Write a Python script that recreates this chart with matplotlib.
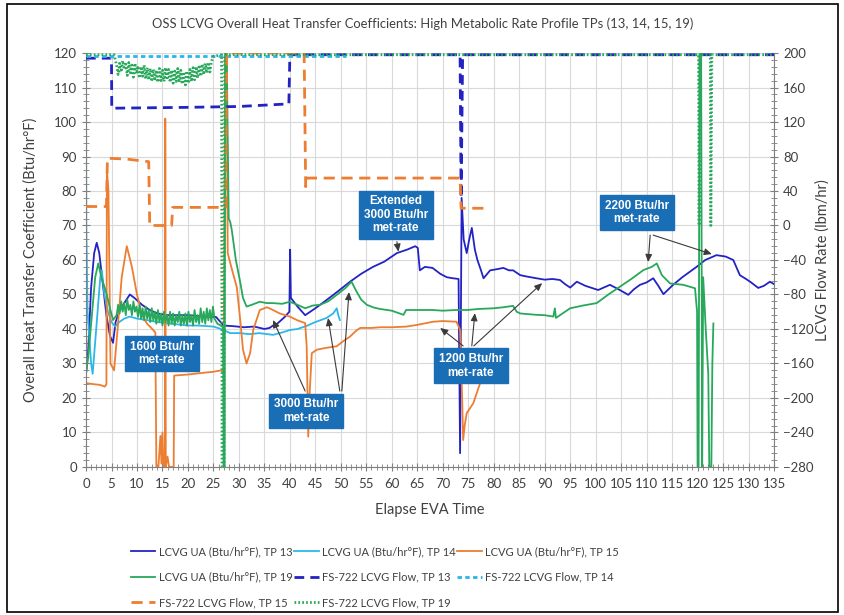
"""OSS LCVG overall heat transfer coefficients for the high metabolic rate
profile test points (13, 14, 15, 19), with the FS-722 LCVG flow traces on a
secondary axis. Values were read off the original chart by eye.
"""
import matplotlib

matplotlib.use("Agg")
import matplotlib.pyplot as plt
from matplotlib.patches import Rectangle
from matplotlib.ticker import MultipleLocator

# --- LCVG UA (Btu/hr*F), left axis: (elapsed EVA time, UA)
ua_tp13 = [
    (0, 27), (0.4, 33), (1.0, 52), (1.6, 62), (2.1, 65), (2.6, 62), (3.3, 53),
    (4.0, 44), (4.7, 38), (5.3, 36), (5.8, 42), (6.5, 45), (7.5, 47.5), (8.6, 50),
    (9.5, 49), (11, 47), (12.5, 45.5), (14, 44.5), (16, 44), (18, 44), (20, 44),
    (22, 43.8), (24, 43.5), (25.5, 43.5), (27, 41), (29, 40.8), (31, 40.5),
    (33, 40.7), (35, 40), (36, 40.3), (36.7, 41), (37.5, 41.5), (39, 43.5),
    (39.9, 45), (40.05, 63), (40.2, 49), (41.5, 46.5), (43, 44), (45, 46),
    (47.2, 48.4), (49.5, 51), (51.8, 53.7), (54, 56), (56.3, 58), (58.5, 59.5),
    (61, 62), (63, 63), (64.6, 64), (65.1, 63.5), (65.5, 57), (66.5, 58),
    (68, 57.7), (69.5, 56), (70.8, 55), (72, 54.7), (73.1, 54.5), (73.4, 4),
    (73.7, 78), (74.1, 66), (74.7, 62), (75.2, 66), (75.7, 69.3), (76.3, 63),
    (76.8, 60), (77.5, 57), (78, 54.7), (79.3, 57), (80.5, 57.3), (81.9, 57.7),
    (83, 57), (83.8, 57), (85.2, 55.6), (86.5, 55.2), (88.4, 54.7), (90, 54.3),
    (91.5, 54.5), (93, 54.2), (94, 53), (95, 52), (96.3, 53.7), (98, 52.5),
    (100.5, 51.3), (102.8, 52.8), (104.5, 51.5), (106.4, 49.9), (107.5, 51.5),
    (108.7, 52.8), (110, 53.5), (111.3, 54.7), (112.3, 52.5), (113.3, 50.1),
    (115.2, 52.8), (117, 55), (119.8, 58), (121.5, 60), (123.7, 61.4),
    (125.5, 61), (127, 60), (128.3, 55.6), (129.5, 54.5), (130.5, 53.5),
    (131.9, 51.9), (133, 52.5), (134.2, 53.7), (135, 53),
]
ua_tp14 = [
    (0, 120), (0.05, 70), (0.3, 45), (1.0, 30), (1.3, 27), (2.0, 40), (2.8, 55),
    (3.1, 57), (3.6, 50), (4.3, 45), (5, 42), (5.7, 40.7), (6.5, 42), (7.5, 43),
    (8.6, 43.6), (10, 43), (11.9, 42.6), (14, 42), (17, 41.5), (20, 41), (22, 41),
    (25, 40.7), (26.5, 40), (28.3, 38.8), (30.2, 38.8), (32, 38.5), (34, 38.8),
    (36.7, 38.3), (38.5, 39), (40, 39.7), (41.5, 40), (43.3, 40.9), (45, 42),
    (47.2, 43.2), (48.5, 44.5), (49.2, 46), (49.5, 44), (49.8, 42.6),
]
ua_tp15 = [
    (0, 24.3), (1.5, 24), (2.7, 23.8), (3.7, 23.3), (4.0, 24), (4.1, 86),
    (4.4, 80), (4.8, 30), (5.5, 28), (6.2, 40), (7, 55), (8, 64), (9, 58),
    (10, 50), (11, 44), (12, 41.5), (13, 40), (13.6, 39), (13.8, 0), (14.2, 0),
    (14.6, 9), (14.8, 1), (15.0, 10), (15.2, 0), (15.5, 0), (15.55, 101),
    (15.65, 0), (16, 3), (16.3, 0), (17.2, 0), (17.3, 26.5), (20, 26.8),
    (23, 27.3), (25, 27.6), (26.5, 28), (27, 27.3), (27.3, 120), (27.6, 120),
    (27.8, 62), (28.5, 58), (29.6, 52), (30.3, 42), (30.8, 34), (31.5, 30),
    (32.2, 33), (32.8, 39.7), (34.1, 45.5), (35.5, 46.3), (36.7, 45.5),
    (38, 44.5), (40, 43.6), (41.5, 42.5), (43, 41.7), (43.3, 35), (43.6, 8.8),
    (43.9, 22), (44.3, 33), (45.3, 34), (47, 34.5), (49.2, 35), (50.5, 36.5),
    (51.8, 37.8), (53, 39.5), (53.8, 40.3), (56, 40.3), (57.7, 40.5), (60, 40.5),
    (62.9, 40.7), (65, 41.2), (68.1, 42.1), (70, 42.3), (72.7, 42.1),
    (73.4, 39.7), (73.8, 20), (74.0, 7.8), (74.3, 12), (74.7, 15.6), (76, 18.5),
    (76.8, 22), (77.5, 25),
]
ua_tp19 = [
    (0, 27), (0.5, 33), (1.2, 45), (1.8, 55), (2.4, 59), (3, 55), (4, 50.4),
    (4.7, 46), (5.3, 42.6), (6.0, 44),
    (6.3, 47), (6.6, 44.5), (6.9, 48), (7.2, 45), (7.5, 47.5), (7.8, 44),
    (8.1, 48.5), (8.4, 45.5), (8.7, 47), (9.0, 44), (9.3, 48), (9.6, 45),
    (9.9, 46.5), (10.2, 43.5), (10.5, 47), (10.8, 43), (11.1, 46), (11.4, 42.5),
    (11.7, 46.5), (12.0, 43), (12.3, 45.5), (12.6, 42), (12.9, 46), (13.2, 42.5),
    (13.5, 45), (13.8, 41.5), (14.1, 45.5), (14.4, 42), (14.7, 44.5), (15.0, 41),
    (15.3, 45), (15.6, 42), (15.9, 44), (16.2, 41), (16.5, 45), (16.8, 41.5),
    (17.1, 44.5), (17.4, 41), (17.7, 44), (18.0, 42), (18.3, 45), (18.6, 41),
    (18.9, 44), (19.2, 41.5), (19.5, 44.5), (19.8, 41), (20.1, 45), (20.4, 42),
    (20.7, 44), (21.0, 41), (21.3, 45.5), (21.6, 42), (21.9, 44), (22.2, 41.5),
    (22.5, 46), (22.8, 42), (23.1, 45), (23.4, 41.5), (23.7, 46), (24.0, 42.5),
    (24.3, 45.5), (24.6, 42), (24.9, 46.5), (25.2, 43),
    (25.8, 41.5), (26.5, 41), (26.9, 40.5), (27.0, 0), (27.2, 0), (27.3, 120),
    (27.6, 120), (28.0, 72), (28.3, 71), (28.6, 68.7), (29.4, 60), (30.2, 54),
    (30.8, 49), (31.5, 46.5), (32.5, 47), (34.1, 47.9), (35.5, 47.5),
    (36.7, 47.5), (38.5, 47.3), (40, 47.9), (41.5, 47), (43, 46), (44.5, 46.8),
    (45.9, 47), (47.5, 48), (49.2, 49.9), (51, 52), (52.1, 53.7), (53.1, 50.8),
    (54, 48.5), (55.1, 47), (56.5, 46.2), (57.7, 45.8), (60, 45.3), (62.3, 44.1),
    (62.8, 45.5), (65.5, 45.5), (68, 45.5), (70, 45.3), (72.5, 45.5),
    (74.8, 45.5), (77, 45.8), (80, 46), (81.9, 46.3), (83.8, 46.7), (84.5, 45),
    (85.2, 44.5), (88.4, 44.1), (90, 44), (91.7, 43.6), (92, 46), (92.2, 43.2),
    (93.5, 44.5), (95, 46), (97.5, 46.8), (100.2, 47.5), (102.5, 50),
    (104.8, 52.3), (107, 54.5), (109.4, 57.1), (111, 58), (112, 59), (113, 55.6),
    (114.6, 53.2), (117.2, 52.8), (119.5, 51.8), (119.9, 45), (120.0, 0),
    (120.2, 0), (120.4, 120), (120.7, 120), (120.9, 0), (121.1, 55), (121.6, 40),
    (122.1, 27), (122.3, 0), (122.7, 0), (122.9, 30), (123.1, 41.6),
]

# --- FS-722 LCVG flow (lbm/hr), right axis: (elapsed EVA time, flow)
flow_tp13 = [
    (0, 194), (5, 194), (5.05, 136), (20, 137), (30, 138), (39.8, 141),
    (40, 198), (73.4, 198), (73.6, 32), (73.9, 198), (135, 198),
]
flow_tp14 = [(0, 197), (51, 197)]
flow_tp15 = [
    (0, 22), (4.0, 22), (4.2, 78), (8, 77), (12.3, 74), (12.5, 0), (16.8, 0),
    (17, 21), (27.4, 21), (27.6, 200), (42.8, 200), (43.1, 45), (43.4, 55),
    (73.4, 55), (73.6, 20), (79, 20),
]
flow_tp19 = [
    (0, 198), (5.5, 198),
    (6.0, 186), (6.3, 175), (6.6, 188), (6.9, 178), (7.2, 191), (7.5, 181),
    (7.8, 187), (8.1, 174), (8.4, 189), (8.7, 177), (9.0, 186), (9.3, 172),
    (9.6, 188), (9.9, 176), (10.2, 185), (10.5, 171), (10.8, 184), (11.1, 173),
    (11.4, 186), (11.7, 170), (12.0, 183), (12.3, 169), (12.6, 182), (12.9, 167),
    (13.2, 181), (13.5, 168), (13.8, 180), (14.1, 166), (14.4, 182), (14.7, 168),
    (15.0, 180), (15.3, 167), (15.6, 183), (15.9, 169), (16.2, 181), (16.5, 166),
    (16.8, 180), (17.1, 165), (17.4, 179), (17.7, 167), (18.0, 182), (18.3, 166),
    (18.6, 180), (18.9, 164), (19.2, 178), (19.5, 163), (19.8, 179), (20.1, 165),
    (20.4, 181), (20.7, 167), (21.0, 183), (21.3, 169), (21.6, 184), (21.9, 171),
    (22.2, 186), (22.5, 173), (22.8, 187), (23.1, 175), (23.4, 188), (23.7, 177),
    (24.0, 189), (24.3, 178), (24.6, 190),
    (25, 196), (26.6, 198), (26.7, -280), (27.1, -280), (27.2, 198),
    (120.2, 198), (120.3, 0), (120.5, 198), (122.5, 198), (122.6, 0),
    (122.8, 198), (135, 198),
]

labels = [
    "LCVG UA (Btu/hr°F), TP 13", "LCVG UA (Btu/hr°F), TP 14",
    "LCVG UA (Btu/hr°F), TP 15", "LCVG UA (Btu/hr°F), TP 19",
    "FS-722 LCVG Flow, TP 13", "FS-722 LCVG Flow, TP 14",
    "FS-722 LCVG Flow, TP 15", "FS-722 LCVG Flow, TP 19",
]
met_rate_boxes = [
    "1600 Btu/hr\nmet-rate", "3000 Btu/hr\nmet-rate",
    "Extended\n3000 Btu/hr\nmet-rate", "1200 Btu/hr\nmet-rate",
    "2200 Btu/hr\nmet-rate",
]

BLUE = "#2323C4"
CYAN = "#2DB7E9"
ORANGE = "#ED7D31"
GREEN = "#27A85A"
BOX = "#1A6EB6"
FONT = "Lato"
TXT = "#404040"


def _xy(series):
    xs, ys = zip(*series)
    return list(xs), list(ys)


def add_box(ax, ref, text, at):
    ax.text(at[0], at[1], text, transform=ref.transData, ha="center",
            va="center", color="white", fontsize=8.5, fontweight="bold",
            family="Liberation Sans", linespacing=1.15, zorder=10,
            bbox=dict(boxstyle="square,pad=0.4", fc=BOX, ec=BOX))


def add_arrow(ax, ref, tail, head):
    ax.annotate("", xy=head, xytext=tail, xycoords=ref.transData,
                textcoords=ref.transData, zorder=9,
                arrowprops=dict(arrowstyle="-|>,head_length=0.45,head_width=0.2",
                                color="#3A3A3A", lw=0.8, shrinkA=0, shrinkB=0))


def main():
    fig = plt.figure(figsize=(8.45, 6.15), dpi=100)
    ax = fig.add_axes([0.1018, 0.2407, 0.8142, 0.6731])
    ax2 = ax.twinx()

    h = []
    for series, color in [(ua_tp13, BLUE), (ua_tp14, CYAN), (ua_tp15, ORANGE),
                          (ua_tp19, GREEN)]:
        x, y = _xy(series)
        h.append(ax.plot(x, y, color=color, lw=1.3)[0])

    x, y = _xy(flow_tp13)
    h.append(ax2.plot(x, y, color=BLUE, lw=2, dashes=(3.5, 2.2))[0])
    x, y = _xy(flow_tp14)
    h.append(ax2.plot(x, y, color=CYAN, lw=2, dashes=(1.6, 1.2))[0])
    x, y = _xy(flow_tp15)
    h.append(ax2.plot(x, y, color=ORANGE, lw=2, dashes=(4, 2.4))[0])
    x, y = _xy(flow_tp19)
    h.append(ax2.plot(x, y, color=GREEN, lw=2, dashes=(0.6, 0.8))[0])

    ax.set_xlim(0, 135)
    ax.set_ylim(0, 120)
    ax2.set_ylim(-280, 200)
    ax.xaxis.set_major_locator(MultipleLocator(5))
    ax.xaxis.set_minor_locator(MultipleLocator(1))
    ax.yaxis.set_major_locator(MultipleLocator(10))
    ax.yaxis.set_minor_locator(MultipleLocator(2))
    ax2.yaxis.set_major_locator(MultipleLocator(40))
    ax2.yaxis.set_minor_locator(MultipleLocator(8))
    ax.grid(True, which="major", color="#D9D9D9", lw=0.8)
    ax.set_axisbelow(True)

    for a in (ax, ax2):
        a.spines["top"].set_visible(False)
        for s in ("left", "right", "bottom"):
            a.spines[s].set_color("#7F7F7F")
        a.tick_params(which="both", direction="inout", colors="#7F7F7F",
                      labelcolor=TXT, labelsize=9.5)
        a.tick_params(which="major", length=6)
        a.tick_params(which="minor", length=4)
        for lab in a.get_xticklabels() + a.get_yticklabels():
            lab.set_family(FONT)
    ax.tick_params(axis="x", pad=5)
    ax.spines["right"].set_visible(False)
    ax2.spines["left"].set_visible(False)
    ax2.spines["bottom"].set_visible(False)

    fig.text(0.5, 0.961, "OSS LCVG Overall Heat Transfer Coefficients: High "
             "Metabolic Rate Profile TPs (13, 14, 15, 19)", ha="center",
             va="center", fontsize=9.4, color=TXT, family=FONT)
    fig.text(0.036, 0.577, "Overall Heat Transfer Coefficient (Btu/hr°F)",
             rotation=90, ha="center", va="center", fontsize=10.5,
             color=TXT, family=FONT)
    fig.text(0.973, 0.577, "LCVG Flow Rate (lbm/hr)", rotation=90,
             ha="center", va="center", fontsize=10.5, color=TXT, family=FONT)
    fig.text(0.509, 0.171, "Elapse EVA Time", ha="center", va="center",
             fontsize=10.5, color=TXT, family=FONT)

    # met-rate call-outs, placed in UA/time coordinates
    centers = [(14.9, 32.8), (43.2, 16.2), (60.8, 73.1), (75.5, 29.3),
               (108.1, 73.7)]
    for text, at in zip(met_rate_boxes, centers):
        add_box(ax2, ax, text, at)
    arrows = [
        ((43.0, 22.0), (36.7, 42.6)), ((49.8, 22.0), (47.5, 43.2)),
        ((50.2, 22.0), (51.6, 50.7)), ((61.0, 65.3), (61.3, 62.4)),
        ((74.0, 35.1), (69.5, 40.3)), ((75.7, 35.1), (76.3, 44.6)),
        ((76.1, 35.1), (89.5, 53.3)), ((110.7, 67.2), (110.3, 59.4)),
        ((111.3, 67.2), (122.8, 61.7)),
    ]
    for tail, head in arrows:
        add_arrow(ax2, ax, tail, head)

    order = [0, 3, 6, 1, 4, 7, 2, 5]
    fig.legend([h[i] for i in order], [labels[i] for i in order],
               loc="upper left", bbox_to_anchor=(0.143, 0.128),
               bbox_transform=fig.transFigure, ncol=3, frameon=False,
               prop={"family": FONT, "size": 8}, handlelength=2.2,
               handletextpad=0.3, columnspacing=0.15, labelspacing=1.3,
               labelcolor=TXT)

    fig.patches.append(Rectangle((0.008, 0.005), 0.984, 0.988,
                                 transform=fig.transFigure, fill=False,
                                 ec="black", lw=1.2))
    fig.savefig("out.png", dpi=100)
    plt.close(fig)


if __name__ == "__main__":
    main()
